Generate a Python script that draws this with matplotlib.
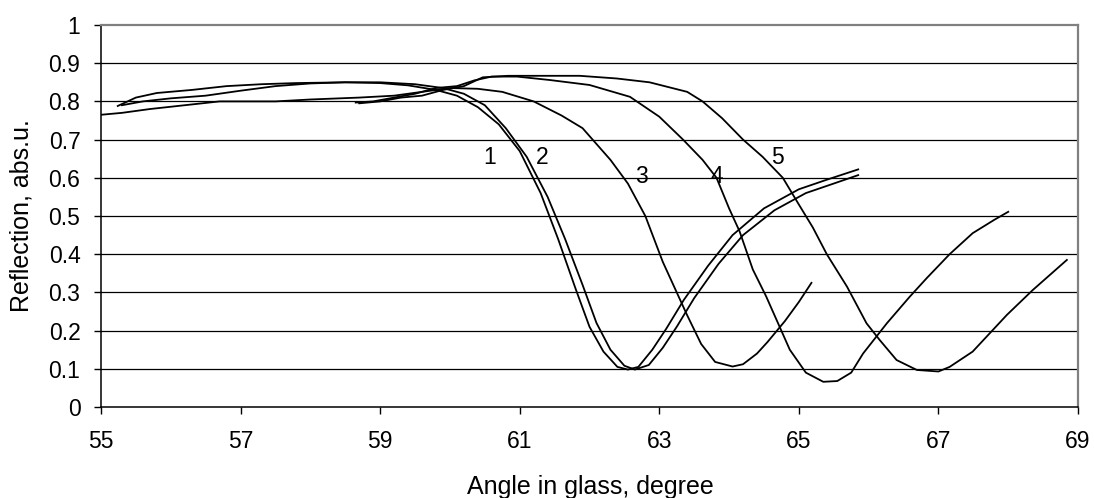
import matplotlib
matplotlib.use("Agg")
import matplotlib.pyplot as plt

plt.rcParams["font.family"] = ["Liberation Sans", "DejaVu Sans"]

# ---- data ----
c1_x = [55.24, 55.5, 55.8, 56.3, 56.8, 57.3, 57.8, 58.5, 59.0, 59.4, 59.8, 60.1, 60.4, 60.7,
        61.0, 61.3, 61.55, 61.8, 62.0, 62.2, 62.4, 62.55, 62.7, 62.9, 63.1, 63.35, 63.7,
        64.05, 64.5, 65.0, 65.4, 65.85]
c1_y = [0.788, 0.81, 0.822, 0.83, 0.84, 0.845, 0.848, 0.85, 0.848, 0.842, 0.83, 0.815, 0.785,
        0.74, 0.67, 0.56, 0.44, 0.31, 0.21, 0.145, 0.105, 0.098, 0.105, 0.15, 0.205, 0.28,
        0.37, 0.45, 0.52, 0.57, 0.595, 0.622]

c2_x = [55.3, 55.6, 56.0, 56.5, 57.0, 57.5, 58.0, 58.5, 59.0, 59.5, 59.9, 60.2, 60.5, 60.8,
        61.1, 61.4, 61.65, 61.9, 62.1, 62.3, 62.5, 62.65, 62.85, 63.05, 63.25, 63.5, 63.85,
        64.2, 64.65, 65.1, 65.5, 65.85]
c2_y = [0.79, 0.80, 0.808, 0.815, 0.828, 0.84, 0.847, 0.85, 0.85, 0.845, 0.835, 0.82, 0.79,
        0.73, 0.655, 0.55, 0.44, 0.32, 0.22, 0.15, 0.108, 0.098, 0.11, 0.155, 0.21, 0.285,
        0.375, 0.45, 0.515, 0.56, 0.585, 0.607]

c3_x = [55.0, 55.3, 55.7, 56.2, 56.7, 57.5, 58.0, 58.7, 59.2, 59.6, 60.0, 60.4, 60.75, 61.2,
        61.6, 61.9, 62.3, 62.55, 62.8, 63.05, 63.25, 63.4, 63.6, 63.8, 64.05, 64.2, 64.4,
        64.55, 64.8, 65.0, 65.18]
c3_y = [0.765, 0.77, 0.78, 0.79, 0.80, 0.80, 0.805, 0.81, 0.815, 0.825, 0.835, 0.833, 0.825,
        0.80, 0.763, 0.73, 0.647, 0.585, 0.50, 0.38, 0.30, 0.24, 0.165, 0.118, 0.106, 0.112,
        0.14, 0.17, 0.225, 0.275, 0.325]

c4_x = [58.65, 58.9, 59.2, 59.5, 59.8, 60.1, 60.35, 60.6, 60.96, 61.43, 62.0, 62.58, 63.0,
        63.34, 63.62, 63.82, 64.0, 64.15, 64.34, 64.53, 64.7, 64.87, 65.1, 65.35, 65.55,
        65.75, 65.92, 66.26, 66.59, 66.83, 67.16, 67.49, 67.8, 68.0]
c4_y = [0.797, 0.80, 0.81, 0.82, 0.835, 0.84, 0.855, 0.865, 0.865, 0.856, 0.843, 0.812, 0.76,
        0.70, 0.647, 0.60, 0.52, 0.46, 0.36, 0.29, 0.22, 0.15, 0.09, 0.066, 0.068, 0.09,
        0.14, 0.219, 0.289, 0.337, 0.40, 0.455, 0.49, 0.511]

c5_x = [58.7, 59.0, 59.3, 59.6, 59.9, 60.2, 60.47, 60.83, 61.4, 61.86, 62.39, 62.86, 63.4,
        63.62, 63.9, 64.2, 64.48, 64.77, 65.0, 65.2, 65.4, 65.69, 65.97, 66.16, 66.4, 66.69,
        67.0, 67.16, 67.49, 67.98, 68.35, 68.84]
c5_y = [0.795, 0.80, 0.81, 0.815, 0.83, 0.84, 0.863, 0.867, 0.867, 0.867, 0.86, 0.85, 0.825,
        0.80, 0.756, 0.70, 0.655, 0.60, 0.53, 0.47, 0.40, 0.315, 0.219, 0.175, 0.123, 0.097,
        0.093, 0.105, 0.145, 0.241, 0.306, 0.385]

labels = ["1", "2", "3", "4", "5"]
label_x = [60.57, 61.32, 62.75, 63.82, 64.7]
label_y = [0.652, 0.652, 0.603, 0.603, 0.652]

xticks = [55, 57, 59, 61, 63, 65, 67, 69]
yticks = [0, 0.1, 0.2, 0.3, 0.4, 0.5, 0.6, 0.7, 0.8, 0.9, 1]

# ---- figure ----
fig = plt.figure(figsize=(10.94, 4.98), dpi=100)
ax = fig.add_axes([0.0923, 0.1827, 0.8931, 0.7671])

for xs, ys in [(c1_x, c1_y), (c2_x, c2_y), (c3_x, c3_y), (c4_x, c4_y), (c5_x, c5_y)]:
    ax.plot(xs, ys, color="black", lw=1.3, zorder=3)

for lbl, lx, ly in zip(labels, label_x, label_y):
    ax.text(lx, ly, lbl, ha="center", va="center", fontsize=16.5, zorder=4)

ax.set_xlim(55, 69); ax.set_ylim(0, 1)
ax.set_xticks(xticks); ax.set_yticks(yticks)
ax.set_yticklabels([f"{v:g}" for v in yticks])
for v in yticks[1:-1]:
    ax.axhline(v, color="black", lw=0.9, zorder=1)

for s in ("top", "right"):
    ax.spines[s].set_color("#808080"); ax.spines[s].set_linewidth(1.6)
for s in ("left", "bottom"):
    ax.spines[s].set_color("black"); ax.spines[s].set_linewidth(1.1)
ax.tick_params(direction="out", length=5.3, width=1.0, labelsize=16.5)
ax.tick_params(axis="y", pad=9.5)
ax.tick_params(axis="x", pad=11)

# axis titles placed in figure pixels like the reference
fig.text(590 / 1094, 1 - 494 / 498, "Angle in glass, degree", fontsize=18,
         ha="center", va="baseline")
fig.text(21.5 / 1094, 1 - 216 / 498, "Reflection, abs.u.", fontsize=18,
         ha="center", va="center", rotation=90)

fig.savefig("out.png", dpi=100)
